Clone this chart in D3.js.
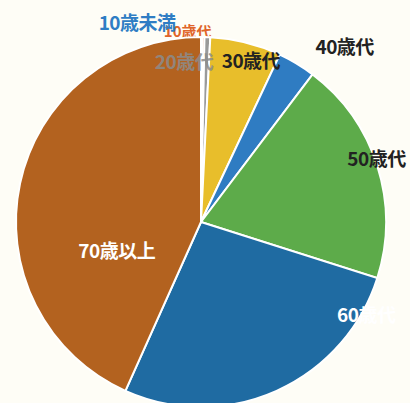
<!DOCTYPE html>
<html>
<head>
<meta charset="utf-8">
<script src="https://cdn.jsdelivr.net/npm/d3@7"></script>
<style>
  html, body { margin: 0; padding: 0; background: #fefdf6; }
  svg { display: block; }
</style>
</head>
<body>
<div id="chart"></div>
<script>
const ageGroups = ["10歳未満", "10歳代", "20歳代", "30歳代", "40歳代", "50歳代", "60歳代", "70歳以上"];
const shares = [0.1, 0.2, 0.5, 6.2, 3.3, 19.6, 26.8, 43.3];

const sliceColors = ["#2f7dc4", "#e0652a", "#9a9a9a", "#e8be2b", "#2f7cc2", "#5dab4a", "#1f6ba2", "#b3621f"];
const labelColors = ["#2f7dc4", "#e0652a", "#8c8c8c", "#222222", "#222222", "#222222", "#ffffff", "#ffffff"];
// label placement: angle shift from slice middle (deg) and radius factor
const labelShift = [-17.9, -4.7, -8, 3, 8, -2.4, -37, -30.4];
const labelRadius = [1.135, 1.04, 0.88, 0.92, 1.23, 1.01, 1.02, 0.48];

const width = 410;
const height = 403;
const cx = 201;
const cy = 222;
const r = 185;

const svg = d3.select("#chart")
  .append("svg")
  .attr("width", width)
  .attr("height", height);

const g = svg.append("g").attr("transform", `translate(${cx},${cy})`);

const pie = d3.pie().sort(null).value(d => d);
const arcs = pie(shares);

const arc = d3.arc().innerRadius(0).outerRadius(r);

const labelPos = (d, i) => {
  const mid = (d.startAngle + d.endAngle) / 2 + labelShift[i] * Math.PI / 180;
  const rr = r * labelRadius[i];
  return [Math.sin(mid) * rr, -Math.cos(mid) * rr];
};

// the orange label sits behind the pie in the original
g.append("text")
  .attr("transform", `translate(${labelPos(arcs[1], 1)})`)
  .attr("text-anchor", "middle")
  .attr("dominant-baseline", "central")
  .attr("font-family", "'Noto Sans CJK JP', sans-serif")
  .attr("font-weight", "bold")
  .attr("font-size", "15px")
  .attr("fill", labelColors[1])
  .text(ageGroups[1]);

g.selectAll("path.slice")
  .data(arcs)
  .enter()
  .append("path")
  .attr("class", "slice")
  .attr("d", arc)
  .attr("fill", (d, i) => sliceColors[i])
  .attr("stroke", "#ffffff")
  .attr("stroke-width", 2);

g.selectAll("text.lbl")
  .data(arcs.filter((d, i) => i !== 1))
  .enter()
  .append("text")
  .attr("class", "lbl")
  .attr("transform", d => `translate(${labelPos(d, d.index)})`)
  .attr("text-anchor", "middle")
  .attr("dominant-baseline", "central")
  .attr("font-family", "'Noto Sans CJK JP', sans-serif")
  .attr("font-weight", "bold")
  .attr("font-size", "19px")
  .attr("letter-spacing", "-0.5px")
  .attr("fill", d => labelColors[d.index])
  .attr("opacity", d => d.index === 2 ? 0.85 : 1)
  .text(d => ageGroups[d.index]);
</script>
</body>
</html>
